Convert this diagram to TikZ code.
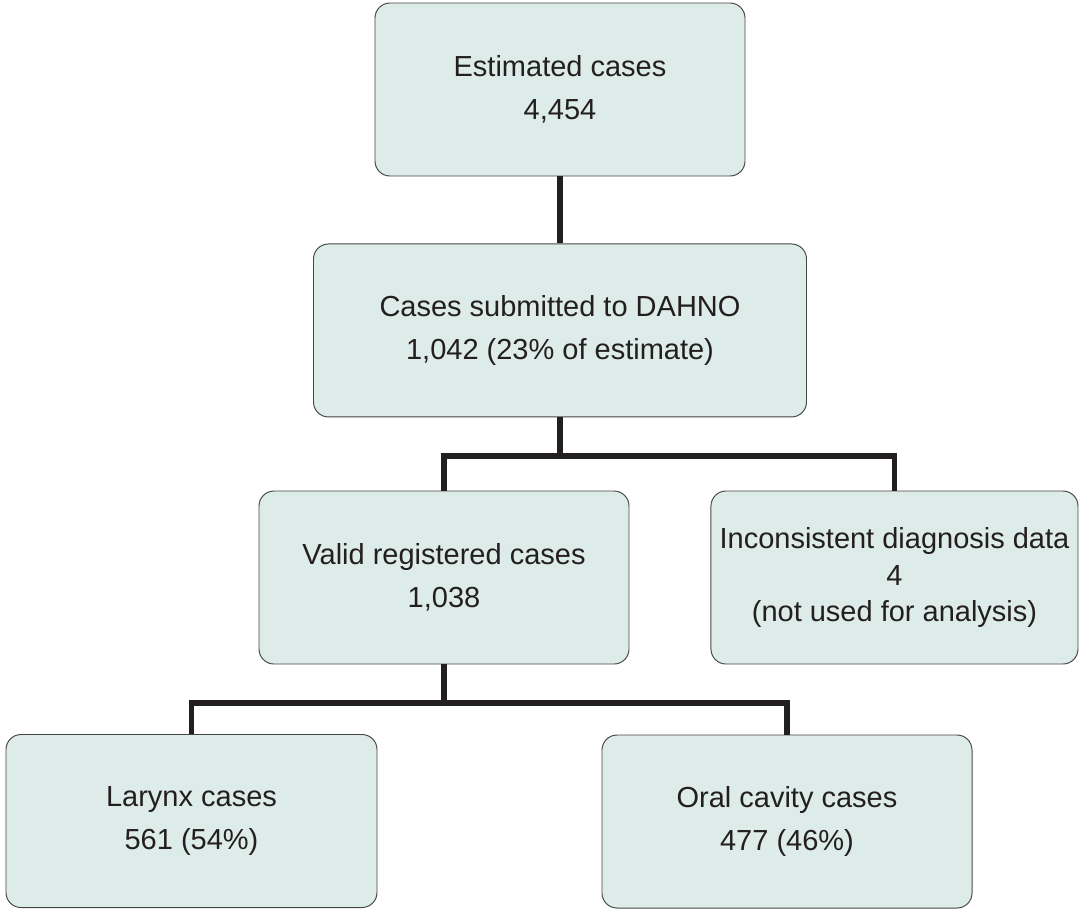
\documentclass[tikz,border=0pt]{standalone}
\usepackage{fontspec}
\setmainfont{Liberation Sans}
\usepackage{xcolor}
\usepackage{tikz}
\usetikzlibrary{positioning, shapes, arrows.meta}

\definecolor{boxfill}{RGB}{221,236,232}
\definecolor{boxline}{RGB}{70,70,70}
\definecolor{inktext}{RGB}{35,31,32}

\begin{document}
\begin{tikzpicture}[
    casebox/.style={rectangle, draw=boxline, line width=0.55pt, fill=boxfill, rounded corners=0.3cm, align=center, text=inktext, inner sep=0pt, minimum height=3.46cm, font=\fontsize{16.5}{24.5}\selectfont},
    link/.style={line width=2.9pt, draw=inktext}
]
\useasboundingbox (0,0) rectangle (21.6,-18.18);

\node[casebox, minimum width=7.4cm] (estimated) at (11.2,-1.79) {Estimated cases\\4,454};
\node[casebox, minimum width=9.86cm, below=1.34cm of estimated] (submitted) {Cases submitted to DAHNO\\1,042 (23\% of estimate)};
\node[casebox, minimum width=7.4cm] (valid) at (8.88,-11.55) {Valid registered cases\\1,038};
\node[casebox, minimum width=7.34cm, right=1.62cm of valid, font=\fontsize{16.5}{20.5}\selectfont] (inconsistent) {Inconsistent diagnosis data\\4\\(not used for analysis)};
\node[casebox, minimum width=7.42cm] (larynx) at (3.83,-16.42) {Larynx cases\\561 (54\%)};
\node[casebox, minimum width=7.4cm] (oral) at (15.74,-16.43) {Oral cavity cases\\477 (46\%)};

\coordinate (split1) at (11.2,-9.12);
\coordinate (split2) at (8.88,-14.06);

\draw[link] (estimated) -- (submitted);
\draw[link] (submitted.south) -- (split1);
\draw[link] (valid.north) |- (split1) -| (inconsistent.north);
\draw[link] (valid.south) -- (split2);
\draw[link] (larynx.north) |- (split2) -| (oral.north);
\end{tikzpicture}
\end{document}
